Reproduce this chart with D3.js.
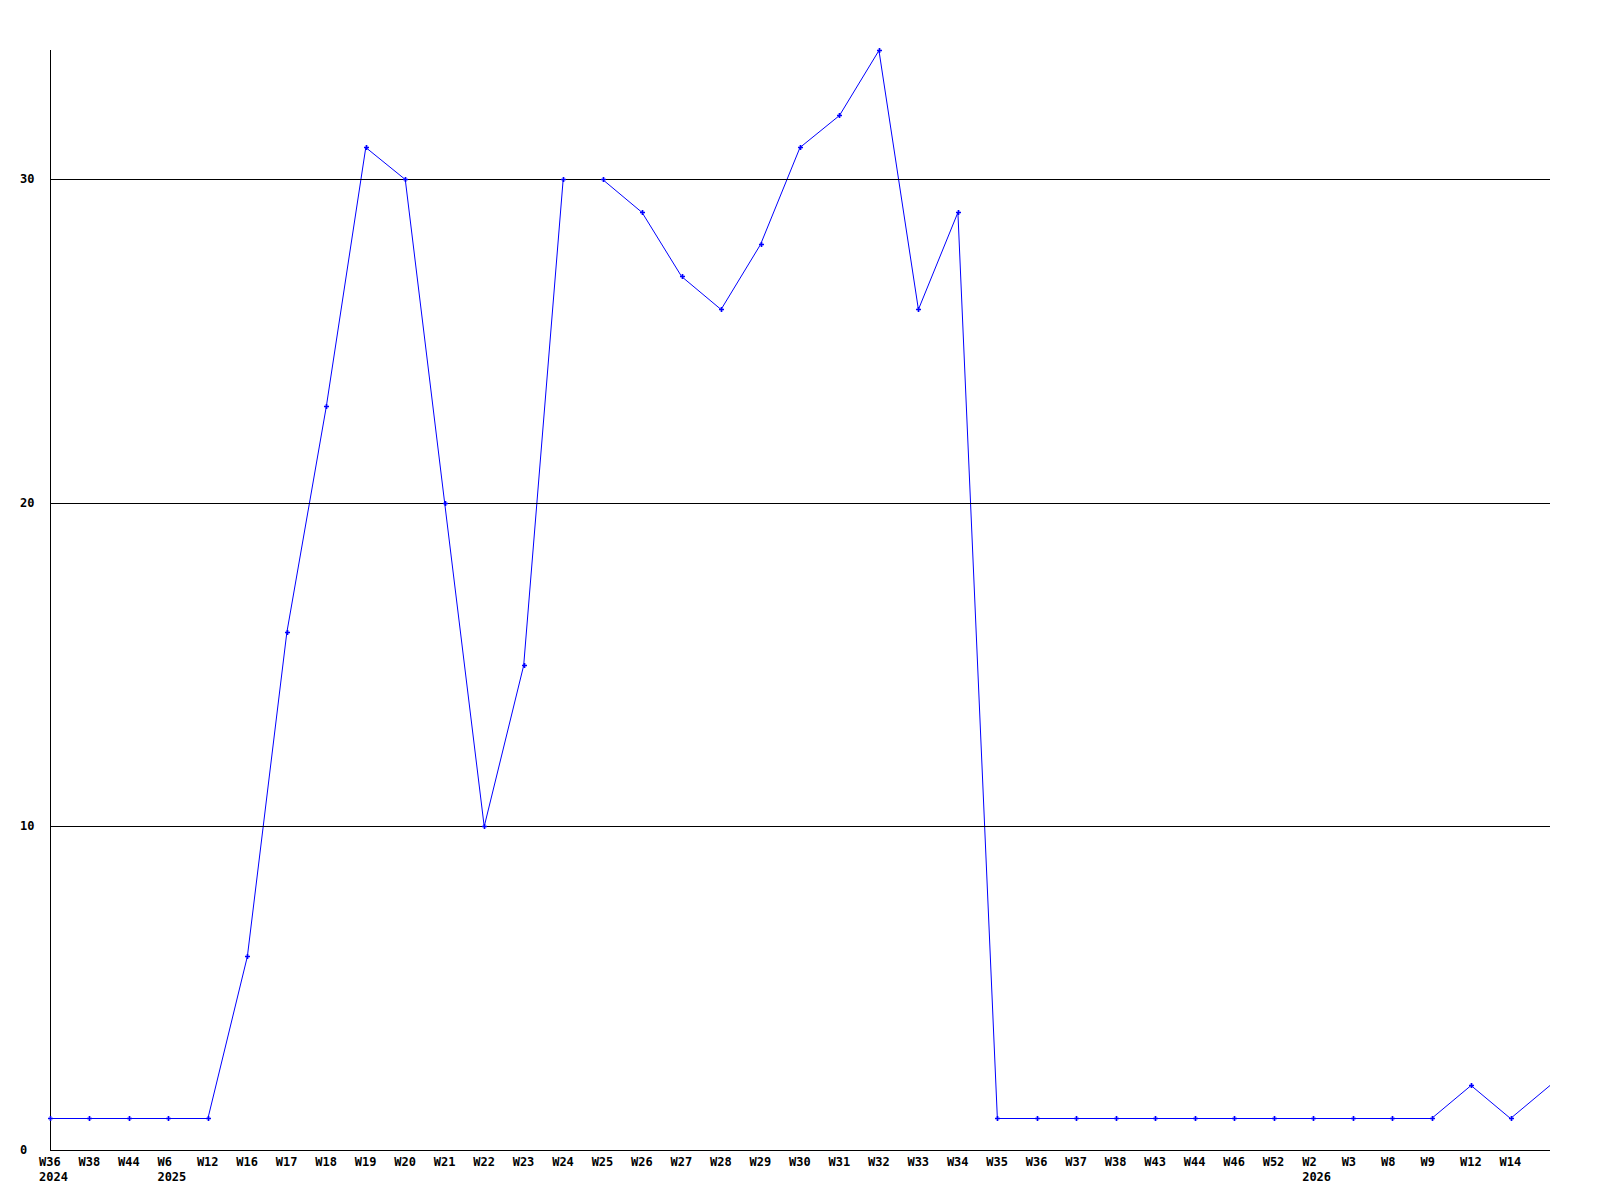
<!DOCTYPE html>
<html>
<head>
<meta charset="utf-8">
<script src="https://cdn.jsdelivr.net/npm/d3@7"></script>
<style>
  body { margin: 0; background: #fff; }
  text { font-family: "DejaVu Sans Mono", monospace; font-weight: bold; font-size: 12px; fill: #000; }
</style>
</head>
<body>
<div id="vis-container"></div>
<script>
// Data
var weeks = ['W36','W38','W44','W6','W12','W16','W17','W18','W19','W20','W21','W22','W23','W24','W25','W26',
             'W27','W28','W29','W30','W31','W32','W33','W34','W35','W36','W37','W38','W43','W44','W46','W52',
             'W2','W3','W8','W9','W12','W14','']
var years = { 0: '2024', 3: '2025', 32: '2026' }
var values = [1,1,1,1,1,6,16,23,31,30,20,10,15,30,30,29,27,26,28,31,32,34,26,29,
              1,1,1,1,1,1,1,1,1,1,1,1,2,1,2]
var yTicks = [0,10,20,30]

// Variables
var W = 1600, H = 1200
var margin = { top: 50, right: 50, bottom: 50, left: 50 }
var w = W - margin.left - margin.right
var h = H - margin.top - margin.bottom

var data = values.map(function (v, i) { return { i: i, v: v, week: weeks[i] } })

// Scales
var xScale = d3.scaleLinear().domain([0, values.length - 1]).range([0, w])
var yScale = d3.scaleLinear().domain([0, 34]).range([h, 0])

// SVG
var svg = d3.select('#vis-container').append('svg')
    .attr('width', W)
    .attr('height', H)
  .append('g')
    .attr('transform', 'translate(' + margin.left + ',' + margin.top + ')')

// line
var line = d3.line()
    .x(function (d) { return xScale(d.i) })
    .y(function (d) { return Math.round(yScale(d.v)) + 0.5 })
svg.append('path')
    .datum(data)
    .attr('d', line)
    .attr('fill', 'none')
    .attr('stroke', '#0000ff')
    .attr('stroke-width', 1)

// grid lines
svg.selectAll('.grid')
    .data(yTicks.filter(function (d) { return d > 0 }))
    .enter()
  .append('line')
    .attr('x1', 0)
    .attr('x2', w)
    .attr('y1', function (d) { return Math.round(yScale(d)) + 0.5 })
    .attr('y2', function (d) { return Math.round(yScale(d)) + 0.5 })
    .attr('stroke', '#000')
    .attr('stroke-width', 1)

// axes
svg.append('line')
    .attr('x1', 0.5).attr('x2', 0.5)
    .attr('y1', 0).attr('y2', h)
    .attr('stroke', '#000')
svg.append('line')
    .attr('x1', 0).attr('x2', w)
    .attr('y1', h + 0.5).attr('y2', h + 0.5)
    .attr('stroke', '#000')

// markers (last point has none)
svg.selectAll('.marker')
    .data(data.slice(0, data.length - 1))
    .enter()
  .append('path')
    .attr('class', 'marker')
    .attr('d', d3.symbol().type(d3.symbolCross).size(14))
    .attr('transform', function (d) {
      return 'translate(' + (Math.round(xScale(d.i)) + 0.5) + ',' + (Math.round(yScale(d.v)) + 0.5) + ')'
    })
    .attr('fill', '#0000ff')

// y labels
svg.selectAll('.ylab')
    .data(yTicks)
    .enter()
  .append('text')
    .attr('x', -30)
    .attr('y', function (d) { return yScale(d) + 4 })
    .text(function (d) { return d })

// x labels
svg.selectAll('.xlab')
    .data(data)
    .enter()
  .append('text')
    .attr('x', function (d) { return xScale(d.i) - 11 })
    .attr('y', h + 16)
    .text(function (d) { return d.week })

svg.selectAll('.yearlab')
    .data(Object.keys(years))
    .enter()
  .append('text')
    .attr('x', function (d) { return xScale(+d) - 11 })
    .attr('y', h + 31)
    .text(function (d) { return years[d] })
</script>
</body>
</html>
